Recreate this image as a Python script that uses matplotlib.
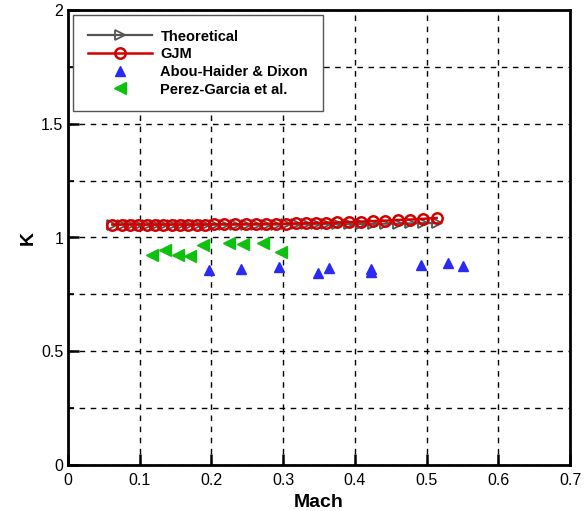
import matplotlib
matplotlib.use("Agg")
import matplotlib.pyplot as plt
from matplotlib.ticker import MultipleLocator

plt.rcParams['font.family'] = ['Liberation Sans', 'DejaVu Sans']

# Model curves (Mach, K)
mach_model = [0.062, 0.075, 0.0865, 0.098, 0.110, 0.121, 0.133, 0.145, 0.156, 0.168,
              0.180, 0.191, 0.204, 0.218, 0.233, 0.248, 0.262, 0.276, 0.290, 0.304,
              0.318, 0.332, 0.346, 0.360, 0.375, 0.392, 0.409, 0.425, 0.442, 0.460,
              0.477, 0.495, 0.514]
k_theoretical = [1.057, 1.057, 1.057, 1.057, 1.057, 1.057, 1.057, 1.057, 1.057, 1.057,
                 1.057, 1.057, 1.057, 1.057, 1.057, 1.057, 1.057, 1.057, 1.057, 1.058,
                 1.058, 1.058, 1.058, 1.059, 1.059, 1.059, 1.060, 1.060, 1.061, 1.061,
                 1.062, 1.063, 1.063]
k_gjm = [1.057, 1.057, 1.057, 1.057, 1.057, 1.057, 1.057, 1.057, 1.057, 1.057,
         1.057, 1.057, 1.058, 1.058, 1.058, 1.059, 1.059, 1.060, 1.060, 1.061,
         1.062, 1.063, 1.064, 1.065, 1.066, 1.068, 1.070, 1.072, 1.074, 1.077,
         1.079, 1.082, 1.086]

# Experimental data
mach_abou = [0.196, 0.241, 0.294, 0.349, 0.364, 0.422, 0.422, 0.492, 0.530, 0.551]
k_abou = [0.859, 0.862, 0.871, 0.845, 0.867, 0.862, 0.850, 0.878, 0.886, 0.874]

mach_perez = [0.117, 0.135, 0.153, 0.170, 0.188, 0.225, 0.2445, 0.2715, 0.297]
k_perez = [0.925, 0.944, 0.921, 0.918, 0.965, 0.977, 0.972, 0.974, 0.937]

fig = plt.figure(figsize=(5.84, 5.11), dpi=100)
ax = fig.add_axes([68/584, 46/511, (570-68)/584, (465-10)/511])

ax.plot(mach_model, k_theoretical, color='#555555', lw=1.6, marker='>',
        ms=6.5, mfc='none', mec='#555555', mew=1.3, label='Theoretical', zorder=3)
ax.plot(mach_model, k_gjm, color='#d40000', lw=1.8, marker='o',
        ms=7.5, mfc='none', mec='#d40000', mew=1.8, label='GJM', zorder=4)
ax.plot(mach_abou, k_abou, ls='none', marker='^', ms=7.5, color='#2a2af5',
        label='Abou-Haider & Dixon', zorder=5)
ax.plot(mach_perez, k_perez, ls='none', marker='<', ms=8, color='#10c010',
        label='Perez-Garcia et al.', zorder=5)

ax.set_xlim(0, 0.7)
ax.set_ylim(0, 2)
ax.yaxis.set_minor_locator(MultipleLocator(0.25))
ax.set_xticks([0, 0.1, 0.2, 0.3, 0.4, 0.5, 0.6, 0.7])
ax.set_xticklabels(['0', '0.1', '0.2', '0.3', '0.4', '0.5', '0.6', '0.7'])
ax.set_yticks([0, 0.5, 1, 1.5, 2])
ax.set_yticklabels(['0', '0.5', '1', '1.5', '2'])

ax.grid(True, which='both', ls=(0, (4, 4)), color='black', lw=1.0)
ax.tick_params(which='both', direction='in', labelsize=11.5, top=False, right=False)
ax.tick_params(axis='x', which='major', pad=6)
ax.tick_params(which='major', length=8, width=1.8)
ax.tick_params(which='minor', length=4, width=1.2)
for s in ax.spines.values():
    s.set_linewidth(2)

ax.set_xlabel('Mach', fontsize=14, fontweight='bold', labelpad=4)
ax.set_ylabel('K', fontsize=14, fontweight='bold', labelpad=3)

leg = ax.legend(loc='upper left', bbox_to_anchor=(5/502, 1 - 5/455), borderaxespad=0,
                fancybox=False, edgecolor='#555555', framealpha=1, handlelength=4.4,
                prop={'weight': 'bold', 'size': 10.5}, labelspacing=0.25,
                borderpad=1.0, handletextpad=0.6)
leg.get_frame().set_linewidth(1.0)

fig.savefig('out.png', dpi=100)
